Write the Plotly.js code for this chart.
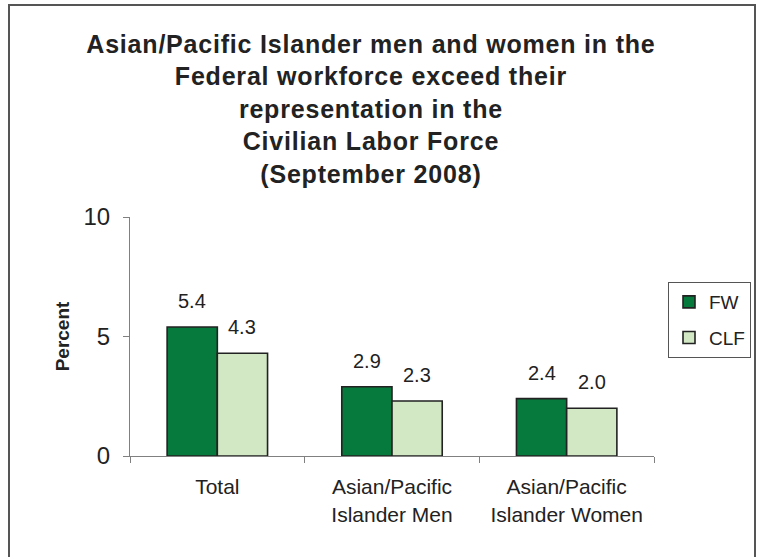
<!DOCTYPE html>
<html>
<head>
<meta charset="utf-8">
<script src="https://cdn.plot.ly/plotly-3.0.1.min.js"></script>
<style>
html,body{margin:0;padding:0;background:#fff;}
#chart{width:757px;height:557px;}
.gtitle{letter-spacing:0.8px;}
</style>
</head>
<body>
<div id="chart"></div>
<script>
const categories = ["Total", "Asian/Pacific<br>Islander Men", "Asian/Pacific<br>Islander Women"];
const fwValues = [5.4, 2.9, 2.4];
const clfValues = [4.3, 2.3, 2.0];
const seriesNames = ["FW", "CLF"];
const yTicks = [0, 5, 10];

const titleText = "Asian/Pacific Islander men and women in the<br>Federal workforce exceed their<br>representation in the<br>Civilian Labor Force<br>(September 2008)";

const barLine = {color: "#222222", width: 1.6};

const traces = [
  {type: "bar", name: seriesNames[0], x: categories, y: fwValues, legendgroup: "g1",
   marker: {color: "#067a3c", line: barLine}, hoverinfo: "x+y"},
  {type: "bar", name: seriesNames[1], x: categories, y: clfValues, legendgroup: "g2",
   marker: {color: "#d2e7c4", line: barLine}, hoverinfo: "x+y"}
];

const labelFont = {family: "Liberation Sans, Arial, sans-serif", size: 20, color: "#222"};
const annotations = [];
categories.forEach((c, i) => {
  annotations.push({x: c, y: fwValues[i], xref: "x", yref: "y", text: fwValues[i].toFixed(1),
    showarrow: false, xshift: -25, yshift: 26, yanchor: "middle", font: labelFont});
  annotations.push({x: c, y: clfValues[i], xref: "x", yref: "y", text: clfValues[i].toFixed(1),
    showarrow: false, xshift: 25, yshift: 26, yanchor: "middle", font: labelFont});
});

const layout = {
  width: 757, height: 557,
  margin: {l: 130, r: 103, t: 217, b: 101, autoexpand: false},
  paper_bgcolor: "#ffffff", plot_bgcolor: "#ffffff",
  font: {family: "Liberation Sans, Arial, sans-serif", color: "#222"},
  title: {text: titleText, x: 0.49, xanchor: "center", y: 0.905, yref: "container", yanchor: "top",
          font: {family: "Liberation Sans, Arial, sans-serif", size: 25, weight: "bold", color: "#222"}},
  barmode: "group", bargap: 0.425, bargroupgap: 0,
  showlegend: true,
  legend: {xref: "container", yref: "container", x: 668 / 757, xanchor: "left", y: 1 - 282 / 557, yanchor: "top",
           bordercolor: "#555", borderwidth: 1, bgcolor: "#fff",
           font: {size: 19, color: "#222"}, traceorder: "grouped", tracegroupgap: 8},
  xaxis: {type: "category", showline: true, linecolor: "#808080", linewidth: 1, automargin: false,
          ticks: "outside", tickson: "boundaries", ticklen: 6, tickcolor: "#808080", ticklabelstandoff: 12,
          tickfont: {size: 21, color: "#222"}, showgrid: false, zeroline: false, fixedrange: true},
  yaxis: {range: [0, 10], tickvals: yTicks, ticktext: yTicks.map(String), automargin: false,
          showline: true, linecolor: "#808080", linewidth: 1,
          ticks: "outside", ticklen: 6, tickcolor: "#808080", ticklabelstandoff: 8,
          tickfont: {size: 24, color: "#222"}, showgrid: false, zeroline: false,
          title: {text: "Percent", standoff: 8, font: {size: 19, weight: "bold", color: "#222"}}},
  annotations: annotations,
  shapes: [{type: "rect", xref: "paper", yref: "paper",
            x0: (9 - 130) / 524, x1: (755 - 130) / 524, y0: -0.6, y1: (456 - 5) / 239,
            line: {color: "#555", width: 2}, fillcolor: "rgba(0,0,0,0)", layer: "below"}]
};

Plotly.newPlot("chart", traces, layout, {displayModeBar: false, staticPlot: false});
</script>
</body>
</html>
